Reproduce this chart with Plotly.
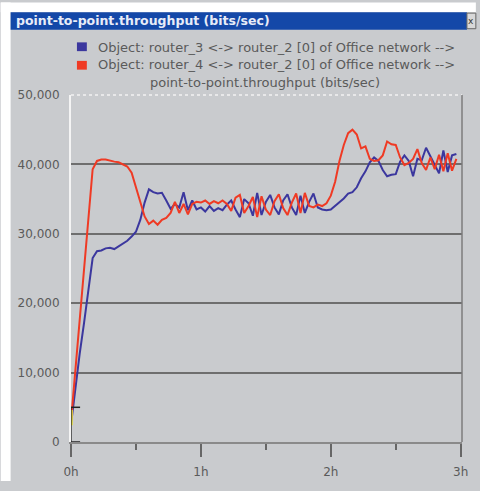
import plotly.graph_objects as go

# time in minutes (sample every 2 min)
minutes = list(range(0, 180, 2))

router4_throughput = [
    3000, 10500, 17000, 25000, 33000, 39300, 40500, 40700, 40700, 40500,
    40400, 40300, 40000, 39700, 38800, 36800, 34800, 32500, 31400, 31900,
    31300, 32000, 32300, 33000, 34600, 33000, 34300, 32800, 34300, 34600,
    34500, 34800, 34300, 34700, 34400, 34800, 34300, 33300, 35200, 35600,
    33000, 34000, 35300, 32400, 35400, 33500, 32700, 34700, 35700, 33700,
    32700, 34500, 35800, 33000, 35900, 34000, 33800, 34200, 34000, 34400,
    35500, 37500, 40500, 42800, 44500, 45000, 44300, 42300, 42600, 40800,
    40500, 40600, 41300, 43300, 42900, 42800, 41000, 39900, 40200, 40800,
    42200, 40200, 39200, 41000, 39300, 41400, 39000, 41600, 39100, 40800,
]

router3_throughput = [
    2500, 8000, 12700, 17100, 21500, 26500, 27500, 27600, 27900, 28000,
    27800, 28200, 28500, 29000, 29600, 30300, 32000, 34500, 36400, 36000,
    35800, 35900, 34800, 33600, 34300, 33800, 36000, 33400, 34800, 33500,
    33800, 33200, 34000, 33300, 33700, 33400, 34200, 34800, 33500, 32400,
    35000, 34400, 32600, 35900, 32700, 34600, 35600, 33800, 32800, 34800,
    35700, 33800, 32700, 35500, 33000, 34600, 35800, 33800, 33500, 33400,
    33500, 34000, 34500, 35100, 35800, 36000, 36700, 38000, 39000, 40300,
    41000, 40500, 39200, 38300, 38500, 38600, 40400, 41300, 40500, 38300,
    40800, 40600, 42400, 41200, 40000, 38700, 42000, 38900, 41300, 41500,
]

hours = [m / 60 for m in minutes]

x_tick_vals = [0, 1, 2, 3]
x_tick_text = ["0h", "1h", "2h", "3h"]
y_tick_vals = [0, 10000, 20000, 30000, 40000, 50000]

series_names = [
    "Object: router_3 <-> router_2 [0] of Office network -->",
    "Object: router_4 <-> router_2 [0] of Office network -->",
]
stat_name = "point-to-point.throughput (bits/sec)"
window_title = "point-to-point.throughput (bits/sec)"

BLUE = "#3b379e"
RED = "#ef3a24"
WIN = "#c9cbce"
TXT = "#5a5a5a"
FONT = "DejaVu Sans, Liberation Sans, Arial"

W, H = 480, 491
L, R, T, B = 71, 14, 95, 40
PW, PH = W - L - R, H - T - B


def px(x):
    return (x - L) / PW


def py(y):
    return (H - B - y) / PH


fig = go.Figure()
fig.add_trace(go.Scatter(x=hours, y=router3_throughput, mode="lines",
                         line=dict(color=BLUE, width=2), name=series_names[0]))
fig.add_trace(go.Scatter(x=hours, y=router4_throughput, mode="lines",
                         line=dict(color=RED, width=2), name=series_names[1]))
# small yellow segment and black cursor marks at the origin
fig.add_trace(go.Scatter(x=[0.006, 0.006], y=[2400, 4600], mode="lines",
                         line=dict(color="#e8e040", width=2), hoverinfo="skip"))
fig.add_trace(go.Scatter(x=[0, 0], y=[0, 5000], mode="lines+markers",
                         line=dict(color="#222222", width=1.3),
                         marker=dict(symbol="line-ew-open", size=13,
                                     line=dict(color="#222222", width=1.5)),
                         hoverinfo="skip"))

shapes = [
    # white page margins
    dict(type="rect", xref="paper", yref="paper", x0=px(0), x1=px(10), y0=py(491), y1=py(0),
         fillcolor="white", line_width=0, layer="below"),
    dict(type="rect", xref="paper", yref="paper", x0=px(0), x1=px(480), y0=py(10), y1=py(0),
         fillcolor="white", line_width=0, layer="below"),
    # title bar
    dict(type="rect", xref="paper", yref="paper", x0=px(10), x1=px(471), y0=py(28), y1=py(10),
         fillcolor="#1448a8", line_width=0, layer="below"),
    dict(type="rect", xref="paper", yref="paper", x0=px(471), x1=px(480), y0=py(27), y1=py(11),
         fillcolor="#d8d8d8", line=dict(color="#666", width=1), layer="below"),
    # top and right border of plot
    dict(type="line", xref="paper", yref="paper", x0=0, x1=1, y0=1, y1=1,
         line=dict(color="#f2f2f2", width=1.5, dash="dot")),
    dict(type="line", xref="paper", yref="paper", x0=1, x1=1, y0=0, y1=1,
         line=dict(color="#7c7c7c", width=1.5)),
    # legend squares
    dict(type="rect", xref="paper", yref="paper", x0=px(77), x1=px(87), y0=py(50), y1=py(41),
         fillcolor=BLUE, line_width=0),
    dict(type="rect", xref="paper", yref="paper", x0=px(77), x1=px(87), y0=py(69), y1=py(60),
         fillcolor=RED, line_width=0),
]

annotations = [
    dict(xref="paper", yref="paper", x=px(13), y=py(19), text=window_title, showarrow=False,
         xanchor="left", yanchor="middle",
         font=dict(family=FONT, size=12.5, color="#e8ecf8", weight="bold")),
    dict(xref="paper", yref="paper", x=px(475.5), y=py(19), text="x", showarrow=False,
         xanchor="center", yanchor="middle", font=dict(family=FONT, size=9, color="#333")),
    dict(xref="paper", yref="paper", x=px(96), y=py(46), text=series_names[0], showarrow=False,
         xanchor="left", yanchor="middle", font=dict(family=FONT, size=13, color=TXT)),
    dict(xref="paper", yref="paper", x=px(96), y=py(64), text=series_names[1], showarrow=False,
         xanchor="left", yanchor="middle", font=dict(family=FONT, size=13, color=TXT)),
    dict(xref="paper", yref="paper", x=px(267), y=py(82), text=stat_name, showarrow=False,
         xanchor="center", yanchor="middle", font=dict(family=FONT, size=13, color=TXT)),
]

fig.update_layout(
    width=W, height=H,
    margin=dict(l=L, r=R, t=T, b=B, pad=0),
    paper_bgcolor=WIN, plot_bgcolor=WIN,
    showlegend=False,
    shapes=shapes, annotations=annotations,
    font=dict(family=FONT, size=12, color=TXT),
)
fig.update_xaxes(
    range=[0, 3.01], tickvals=x_tick_vals, ticktext=x_tick_text,
    showgrid=False, zeroline=False,
    showline=True, linecolor="#8a8a8a", linewidth=2,
    ticks="outside", ticklen=13, tickwidth=1.5, tickcolor="#666",
    minor=dict(dtick=0.5, ticks="outside", ticklen=6, tickwidth=1.5, tickcolor="#666", showgrid=False),
    ticklabelstandoff=5, tickfont=dict(family=FONT, size=12, color=TXT),
)
fig.update_yaxes(
    range=[0, 50000], tickvals=y_tick_vals, tickformat=",",
    showgrid=True, gridcolor="#6e6e6e", gridwidth=1.5, zeroline=False,
    showline=True, linecolor="#f4f4f4", linewidth=2,
    ticks="", ticklabelstandoff=7, tickfont=dict(family=FONT, size=12, color=TXT),
)

fig.write_html(
    "out.html",
    config={"displayModeBar": False},
    post_script=(
        "document.body.style.margin='0';document.body.style.overflow='hidden';"
        "document.documentElement.style.overflow='hidden';"
        "var gd=document.getElementById('{plot_id}');"
        "gd.style.position='fixed';gd.style.left='0px';gd.style.top='0px';"
    ),
)
